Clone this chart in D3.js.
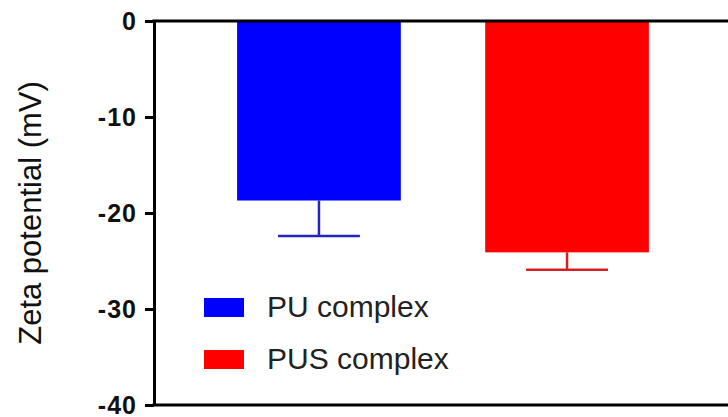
<!DOCTYPE html>
<html>
<head>
<meta charset="utf-8">
<script src="https://cdn.jsdelivr.net/npm/d3@7"></script>
<style>
  html, body { margin: 0; padding: 0; background: #fff; }
  svg { display: block; }
</style>
</head>
<body>
<svg id="chart" width="728" height="417"></svg>
<script>
// Zeta potential of the two complexes (mean with error bar, mV)
const categories = ["PU complex", "PUS complex"];
const means = [-18.7, -24.1];
const errors = [3.7, 1.8];
const colors = ["#0000ff", "#ff0000"];
const errColors = ["#2424c0", "#d42020"];
const yTicks = [0, -10, -20, -30, -40];

const svg = d3.select("#chart");
const plotLeft = 154, plotRight = 732, plotTop = 21, plotBottom = 405;

const y = d3.scaleLinear().domain([0, -40]).range([plotTop, plotBottom]);
const x = d3.scaleBand().domain(categories).range([plotLeft, plotRight])
  .paddingInner(0.34).paddingOuter(0.335);

// bars hanging from zero
svg.selectAll("rect.bar").data(categories).join("rect")
  .attr("class", "bar")
  .attr("x", d => x(d))
  .attr("y", y(0))
  .attr("width", x.bandwidth())
  .attr("height", (d, i) => y(means[i]) - y(0))
  .attr("fill", (d, i) => colors[i]);

// one-sided error bars (downwards)
const capHalf = x.bandwidth() * 0.25;
categories.forEach((c, i) => {
  const cx = x(c) + x.bandwidth() / 2;
  const g = svg.append("g").attr("stroke", errColors[i]).attr("stroke-width", 2.5);
  g.append("line").attr("x1", cx).attr("x2", cx)
    .attr("y1", y(means[i])).attr("y2", y(means[i] - errors[i]));
  g.append("line").attr("x1", cx - capHalf).attr("x2", cx + capHalf)
    .attr("y1", y(means[i] - errors[i])).attr("y2", y(means[i] - errors[i]));
});

// y axis (plain hyphen for the minus sign)
const yAxis = svg.append("g")
  .attr("transform", `translate(${plotLeft},0)`)
  .call(d3.axisLeft(y).tickValues(yTicks).tickFormat(d => String(d))
    .tickSize(9).tickSizeOuter(0).tickPadding(8));
yAxis.select(".domain").attr("stroke", "#000").attr("stroke-width", 3);
yAxis.selectAll(".tick line").attr("stroke", "#000").attr("stroke-width", 3);
yAxis.selectAll(".tick text")
  .attr("font-family", "Liberation Sans, Arial, sans-serif")
  .attr("font-weight", "bold")
  .attr("font-size", 25)
  .attr("letter-spacing", 1)
  .attr("fill", "#111");

// horizontal frame lines at 0 and -40
[0, -40].forEach(v => {
  svg.append("line")
    .attr("x1", plotLeft - 1.5).attr("x2", 728)
    .attr("y1", y(v)).attr("y2", y(v))
    .attr("stroke", "#000").attr("stroke-width", 3);
});

// y axis title
svg.append("text")
  .attr("transform", `translate(41,${(plotTop + plotBottom) / 2}) rotate(-90)`)
  .attr("text-anchor", "middle")
  .attr("font-family", "Liberation Sans, Arial, sans-serif")
  .attr("font-size", 31)
  .attr("fill", "#111")
  .text("Zeta potential (mV)");

// legend
const legend = svg.append("g");
categories.forEach((c, i) => {
  const ly = 298 + i * 52;
  legend.append("rect")
    .attr("x", 204).attr("y", ly)
    .attr("width", 40).attr("height", 19)
    .attr("fill", colors[i]);
  legend.append("text")
    .attr("x", 267).attr("y", ly + 19)
    .attr("font-family", "Liberation Sans, Arial, sans-serif")
    .attr("font-size", 30)
    .attr("fill", "#222")
    .text(c);
});
</script>
</body>
</html>
